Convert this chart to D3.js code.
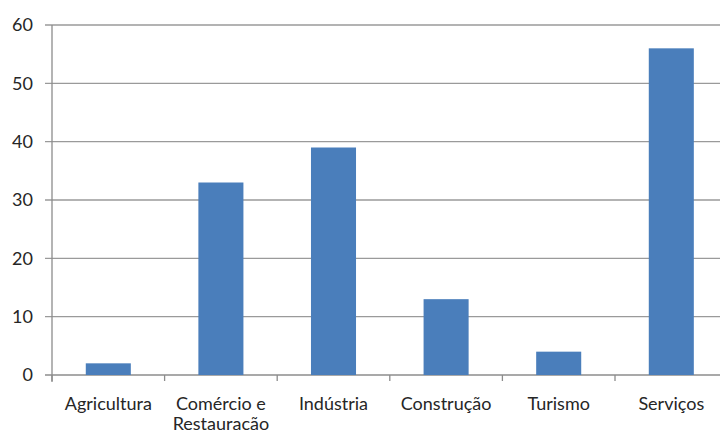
<!DOCTYPE html>
<html><head><meta charset="utf-8">
<script src="https://cdn.jsdelivr.net/npm/d3@7"></script>
<style>body{margin:0;background:#fff}svg{display:block}text{font-family:Lato,"Open Sans",sans-serif;fill:#262626}</style>
</head><body><svg id="c" width="720" height="435"></svg>
<script>
const categories = ["Agricultura", "Comércio e\nRestauracão", "Indústria", "Construção", "Turismo", "Serviços"];
const values = [2, 33, 39, 13, 4, 56];
const yTicks = [0, 10, 20, 30, 40, 50, 60];

(function () {
const svg = d3.select("#c");
const mLeft = 52, mRight = 727.6, mTop = 25, mBottom = 375;
const x = d3.scaleBand().domain(categories).range([mLeft, mRight]).paddingInner(0.6).paddingOuter(0.3);
const y = d3.scaleLinear().domain([0, 60]).range([mBottom, mTop]);

svg.append("g").selectAll("line").data(yTicks).join("line")
  .attr("x1", 45).attr("x2", 720).attr("y1", d => y(d)).attr("y2", d => y(d))
  .attr("stroke", d => d === 0 ? "#8c8c8c" : "#9a9a9a").attr("stroke-width", 1.3);

svg.append("line").attr("x1", mLeft).attr("x2", mLeft).attr("y1", mTop).attr("y2", mBottom + 7)
  .attr("stroke", "#8c8c8c").attr("stroke-width", 1.3);

const step = x.step();
const bounds = d3.range(categories.length + 1).map(i => mLeft + i * step);
svg.append("g").selectAll("line").data(bounds).join("line")
  .attr("x1", d => d).attr("x2", d => d).attr("y1", mBottom).attr("y2", mBottom + 6)
  .attr("stroke", "#8c8c8c").attr("stroke-width", 1.3);

svg.append("g").selectAll("text").data(yTicks).join("text")
  .attr("x", 33).attr("y", d => y(d)).attr("dy", "0.35em").attr("text-anchor", "end")
  .attr("font-size", 18).text(d => d);

svg.append("g").selectAll("rect").data(values).join("rect")
  .attr("x", (d, i) => x(categories[i])).attr("width", x.bandwidth())
  .attr("y", d => y(d)).attr("height", d => y(0) - y(d))
  .attr("fill", "#4a7ebb");

const lab = svg.append("g").selectAll("text").data(categories).join("text")
  .attr("x", d => x(d) + x.bandwidth() / 2).attr("y", 410)
  .attr("text-anchor", "middle").attr("font-size", 18);
lab.each(function (d) {
  const parts = d.split("\n");
  d3.select(this).selectAll("tspan").data(parts).join("tspan")
    .attr("x", x(d) + x.bandwidth() / 2).attr("dy", (p, i) => i === 0 ? 0 : 20).text(p => p);
});
})();
</script></body></html>
